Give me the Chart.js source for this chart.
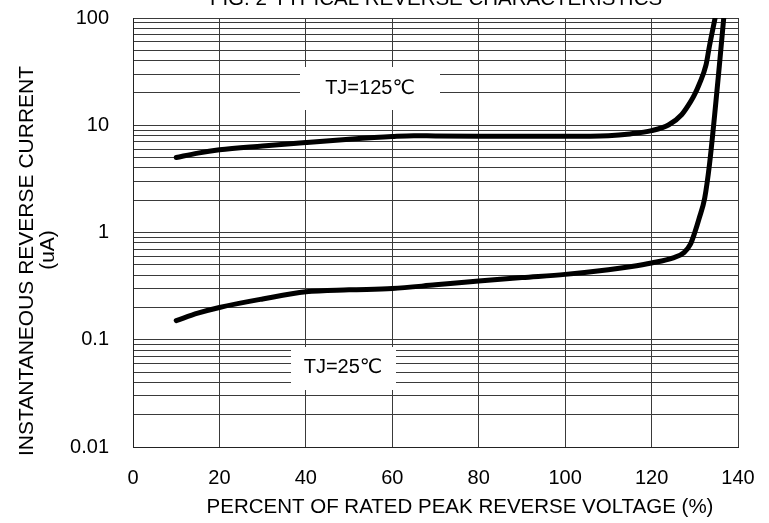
<!DOCTYPE html>
<html><head><meta charset="utf-8">
<script src="https://cdn.jsdelivr.net/npm/chart.js@4"></script>
<style>html,body{margin:0;padding:0;background:#fff;overflow:hidden}#wrap{width:769px;height:523px;position:relative}</style>
</head><body><div id="wrap"><canvas id="c" width="769" height="523"></canvas></div>
<script>
// ---- data ----
const xTicks = [0, 20, 40, 60, 80, 100, 120, 140];
const yMajorTicks = [0.01, 0.1, 1, 10, 100];
const yTickLabels = ['0.01', '0.1', '1', '10', '100'];
const yMinorMultipliers = [2, 3, 4, 5, 6, 7, 8, 9];

const tj125X = [10, 15, 20, 30, 40, 50, 60, 65, 70, 80, 90, 100, 110, 115, 120, 124, 127, 129, 130, 131, 132.6, 133.4, 134.7];
const tj125Y = [5.0, 5.5, 5.9, 6.4, 6.9, 7.4, 7.85, 8.0, 7.95, 7.9, 7.9, 7.9, 8.0, 8.3, 8.9, 10.1, 12.6, 16.5, 19.5, 24, 36.5, 55, 100];

const tj25X = [10, 15, 20, 30, 40, 50, 60, 70, 80, 90, 100, 110, 115, 120, 125, 127.5, 129, 130, 131, 132.3, 133.4, 134.6, 135.7, 136.7];
const tj25Y = [0.151, 0.177, 0.2, 0.24, 0.28, 0.292, 0.3, 0.325, 0.353, 0.38, 0.407, 0.45, 0.48, 0.52, 0.58, 0.65, 0.78, 1.0, 1.35, 2.1, 4.3, 12.5, 36.5, 100];

const chartTitle = 'FIG. 2-TYPICAL REVERSE CHARACTERISTICS';
const xTitle = 'PERCENT OF RATED PEAK REVERSE VOLTAGE (%)';
const yTitleLines = ['INSTANTANEOUS REVERSE CURRENT', '(uA)'];
const label125 = 'TJ=125\u2103';
const label25 = 'TJ=25\u2103';

// ---- rendering ----
const FONT = '"Liberation Sans", Arial, "DejaVu Sans", sans-serif';
const toPts = (xs, ys) => xs.map((x, i) => ({ x: x, y: ys[i] }));

const textPlugin = {
  id: 'texts',
  beforeDatasetsDraw(chart) {
    const ctx = chart.ctx;
    ctx.save();
    ctx.fillStyle = '#fff';
    ctx.fillRect(300, 67, 140, 43);
    ctx.fillRect(291, 347, 105, 43);
    ctx.fillStyle = '#000';
    ctx.font = '20px ' + FONT;
    ctx.textAlign = 'center';
    ctx.textBaseline = 'middle';
    ctx.fillText(label125, 370, 88);
    ctx.fillText(label25, 343, 367);
    ctx.restore();
  },
  afterDraw(chart) {
    const ctx = chart.ctx;
    ctx.save();
    ctx.fillStyle = '#000';
    ctx.textAlign = 'center';
    ctx.font = '20.5px ' + FONT;
    ctx.textBaseline = 'alphabetic';
    ctx.fillText(chartTitle, 436, 5);
    ctx.textBaseline = 'middle';
    ctx.fillText(xTitle, 460, 507);
    ctx.font = '21px ' + FONT;
    ctx.save();
    ctx.translate(27, 261);
    ctx.rotate(-Math.PI / 2);
    ctx.fillText(yTitleLines[0], 0, 0);
    ctx.restore();
    ctx.save();
    ctx.translate(48, 250);
    ctx.rotate(-Math.PI / 2);
    ctx.fillText(yTitleLines[1], 0, 0);
    ctx.restore();
    ctx.restore();
  }
};

new Chart(document.getElementById('c'), {
  type: 'line',
  data: {
    datasets: [
      { label: 'TJ=125', data: toPts(tj125X, tj125Y) },
      { label: 'TJ=25', data: toPts(tj25X, tj25Y) }
    ]
  },
  options: {
    responsive: false,
    animation: false,
    devicePixelRatio: 1,
    layout: { padding: { top: 18, right: 31, left: 0, bottom: 0 } },
    elements: {
      line: { borderColor: '#000', borderWidth: 5, cubicInterpolationMode: 'monotone', borderCapStyle: 'round', borderJoinStyle: 'round', fill: false },
      point: { radius: 0, hoverRadius: 0 }
    },
    datasets: { line: { clip: 0 } },
    plugins: { legend: { display: false }, tooltip: { enabled: false }, title: { display: false } },
    scales: {
      x: {
        type: 'linear', min: 0, max: 140,
        afterBuildTicks: s => { s.ticks = xTicks.map(v => ({ value: v })); },
        afterFit: s => { s.height = 76; s.paddingLeft = 0; s.paddingRight = 0; },
        grid: { color: '#3a3a3a', lineWidth: 1, drawTicks: false },
        border: { display: true, color: '#222', width: 1 },
        ticks: { padding: 19, color: '#000', font: { family: FONT, size: 20 }, autoSkip: false, maxRotation: 0, callback: v => String(v) }
      },
      y: {
        type: 'logarithmic', min: 0.01, max: 100,
        afterBuildTicks: s => {
          const t = [];
          for (let i = 0; i < yMajorTicks.length; i++) {
            t.push({ value: yMajorTicks[i] });
            if (i < yMajorTicks.length - 1) {
              yMinorMultipliers.forEach(m => t.push({ value: m * yMajorTicks[i] }));
            }
          }
          s.ticks = t;
        },
        afterFit: s => { s.width = 133; s.paddingTop = 0; s.paddingBottom = 0; },
        grid: { color: '#3a3a3a', lineWidth: 1, drawTicks: false },
        border: { display: true, color: '#222', width: 1 },
        ticks: {
          padding: 24, color: '#000', font: { family: FONT, size: 20 }, autoSkip: false,
          callback: v => { const i = yMajorTicks.indexOf(v); return i >= 0 ? yTickLabels[i] : ''; }
        }
      }
    }
  },
  plugins: [textPlugin]
});
</script>
</body></html>
